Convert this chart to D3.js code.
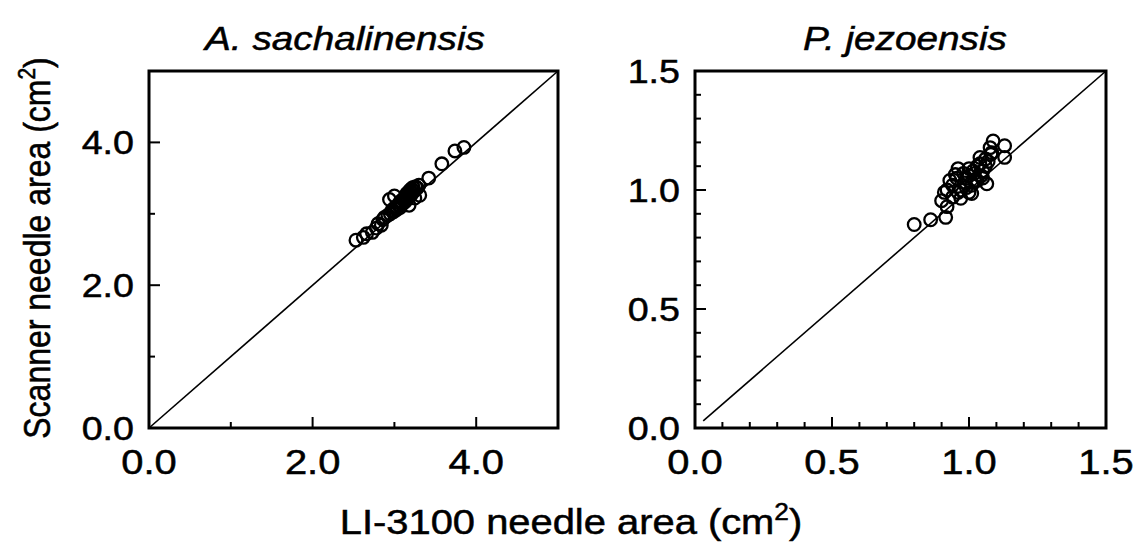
<!DOCTYPE html>
<html>
<head>
<meta charset="utf-8">
<script src="https://cdn.jsdelivr.net/npm/d3@7"></script>
<style>
  body { margin: 0; background: white; }
  text { font-family: "Liberation Sans", Arial, sans-serif; fill: black; stroke: black; stroke-width: 0.5px; }
</style>
</head>
<body>
<script>
// Data
let titles = ['A. sachalinensis', 'P. jezoensis'];

// A. sachalinensis : LI-3100 area vs scanner area
let asX = [2.53, 2.62, 2.66, 2.73, 2.78, 2.80, 2.84, 2.86, 2.88, 2.92, 2.95, 2.97, 2.99, 3.00, 3.02,
           3.03, 3.05, 3.06, 3.07, 3.08, 3.10, 3.11, 3.12, 3.13, 3.14, 3.15, 3.16, 3.17, 3.19, 3.20,
           3.21, 3.22, 3.23, 3.24, 3.26, 3.28, 3.30, 2.94, 3.00, 3.18, 3.25, 3.31, 3.42, 3.58, 3.74, 3.85];
let asY = [2.63, 2.67, 2.72, 2.74, 2.80, 2.86, 2.84, 2.92, 2.95, 2.98, 3.00, 3.05, 3.03, 3.08, 3.10,
           3.06, 3.12, 3.15, 3.09, 3.18, 3.14, 3.20, 3.22, 3.17, 3.25, 3.28, 3.21, 3.30, 3.33, 3.26,
           3.35, 3.29, 3.37, 3.32, 3.38, 3.36, 3.40, 3.20, 3.25, 3.12, 3.22, 3.26, 3.50, 3.70, 3.88, 3.93];

// P. jezoensis
let pjX = [0.80, 0.86, 0.915, 0.90, 0.91, 0.92, 0.93, 0.94, 0.95, 0.955, 0.96, 0.97, 0.98, 0.985, 0.99,
           1.00, 1.00, 1.01, 1.015, 1.02, 1.03, 1.03, 1.04, 1.04, 1.05, 1.05, 1.06, 1.065, 1.07, 1.077,
           1.08, 1.083, 1.088, 1.13, 1.13, 0.94, 0.97, 0.99, 1.01, 1.02, 1.045, 1.06, 0.92, 0.96, 1.00];
let pjY = [0.855, 0.875, 0.885, 0.955, 0.99, 1.00, 1.04, 1.02, 1.065, 1.05, 1.09, 0.965, 1.07, 1.03, 1.01,
           0.99, 1.06, 0.985, 1.08, 1.04, 1.04, 1.10, 1.137, 1.11, 1.08, 1.05, 1.10, 1.026, 1.12, 1.178,
           1.15, 1.157, 1.206, 1.186, 1.137, 0.97, 1.00, 1.05, 1.02, 1.07, 1.06, 1.13, 0.93, 0.99, 1.09];

let asTicks = [0, 1, 2, 3, 4, 5];
let asLabels = [0, 2, 4];
let pjTicks = d3.range(0, 16).map(d => d / 10);
let pjLabels = [0, 0.5, 1.0, 1.5];

let width = 1138, height = 549;
let sx = 1.14; // the figure is stretched sideways, text too

let svg = d3.select('body')
            .append('svg')
            .attr('width', width)
            .attr('height', height)
            .style('background', 'white');

let panels = [
  { title: titles[0], xs: asX, ys: asY, max: 5, ticks: asTicks, labels: asLabels, major: 2,
    left: 149, right: 558, diag: [0, 5], titleX: 345 },
  { title: titles[1], xs: pjX, ys: pjY, max: 1.5, ticks: pjTicks, labels: pjLabels, major: 0.5,
    left: 695, right: 1106, diag: [0.03, 1.5], titleX: 905 }
];

let plotTop = 71, plotBottom = 428;

panels.forEach(p => {
  let x = d3.scaleLinear().domain([0, p.max]).range([p.left, p.right]);
  let y = d3.scaleLinear().domain([0, p.max]).range([plotBottom, plotTop]);
  let g = svg.append('g');
  let isMajor = v => Math.abs(v / p.major - Math.round(v / p.major)) < 1e-6;

  // ticks point inward
  let inner = p.ticks.filter(v => v > 0 && v < p.max);
  g.selectAll('.xt').data(inner).enter().append('line')
    .attr('x1', d => x(d)).attr('x2', d => x(d))
    .attr('y1', plotBottom).attr('y2', d => plotBottom - (isMajor(d) ? 11 : 6))
    .attr('stroke', 'black').attr('stroke-width', 2);
  g.selectAll('.yt').data(inner).enter().append('line')
    .attr('y1', d => y(d)).attr('y2', d => y(d))
    .attr('x1', p.left).attr('x2', d => p.left + (isMajor(d) ? 11 : 6))
    .attr('stroke', 'black').attr('stroke-width', 2);

  // 1:1 line
  g.append('line')
    .attr('x1', x(p.diag[0])).attr('y1', y(p.diag[0]))
    .attr('x2', x(p.diag[1])).attr('y2', y(p.diag[1]))
    .attr('stroke', 'black').attr('stroke-width', 1.6);

  // frame
  g.append('rect')
    .attr('x', p.left).attr('y', plotTop)
    .attr('width', p.right - p.left).attr('height', plotBottom - plotTop)
    .attr('fill', 'none').attr('stroke', 'black').attr('stroke-width', 3);

  // points
  g.selectAll('circle').data(p.xs).enter().append('circle')
    .attr('cx', (d, i) => x(d))
    .attr('cy', (d, i) => y(p.ys[i]))
    .attr('r', 6.3)
    .attr('fill', 'none').attr('stroke', 'black').attr('stroke-width', 2.3);

  // tick labels
  g.selectAll('.xl').data(p.labels).enter().append('text')
    .attr('transform', d => `translate(${x(d)},474) scale(${sx},1)`)
    .attr('text-anchor', 'middle')
    .style('font-size', '35px')
    .text(d => d.toFixed(1));
  g.selectAll('.yl').data(p.labels).enter().append('text')
    .attr('transform', d => `translate(${p.left - 15},${y(d) + 12}) scale(${sx},1)`)
    .attr('text-anchor', 'end')
    .style('font-size', '33px')
    .text(d => d.toFixed(1));

  // title
  g.append('text')
    .attr('transform', `translate(${p.titleX},50) scale(${sx},1)`)
    .attr('text-anchor', 'middle')
    .style('font-size', '34px')
    .style('font-style', 'italic')
    .text(p.title);
});

// axis titles
let xt = svg.append('text')
  .attr('transform', `translate(571,534) scale(${sx},1)`)
  .attr('text-anchor', 'middle')
  .style('font-size', '35px');
xt.append('tspan').text('LI-3100 needle area (cm');
xt.append('tspan').attr('dy', -14).style('font-size', '23px').text('2');
xt.append('tspan').attr('dy', 14).text(')');

let yt = svg.append('text')
  .attr('transform', `translate(50,248) scale(${sx},1) rotate(-90)`)
  .attr('text-anchor', 'middle')
  .style('font-size', '32px');
yt.append('tspan').text('Scanner needle area (cm');
yt.append('tspan').attr('dy', -13).style('font-size', '21px').text('2');
yt.append('tspan').attr('dy', 13).text(')');
</script>
</body>
</html>
